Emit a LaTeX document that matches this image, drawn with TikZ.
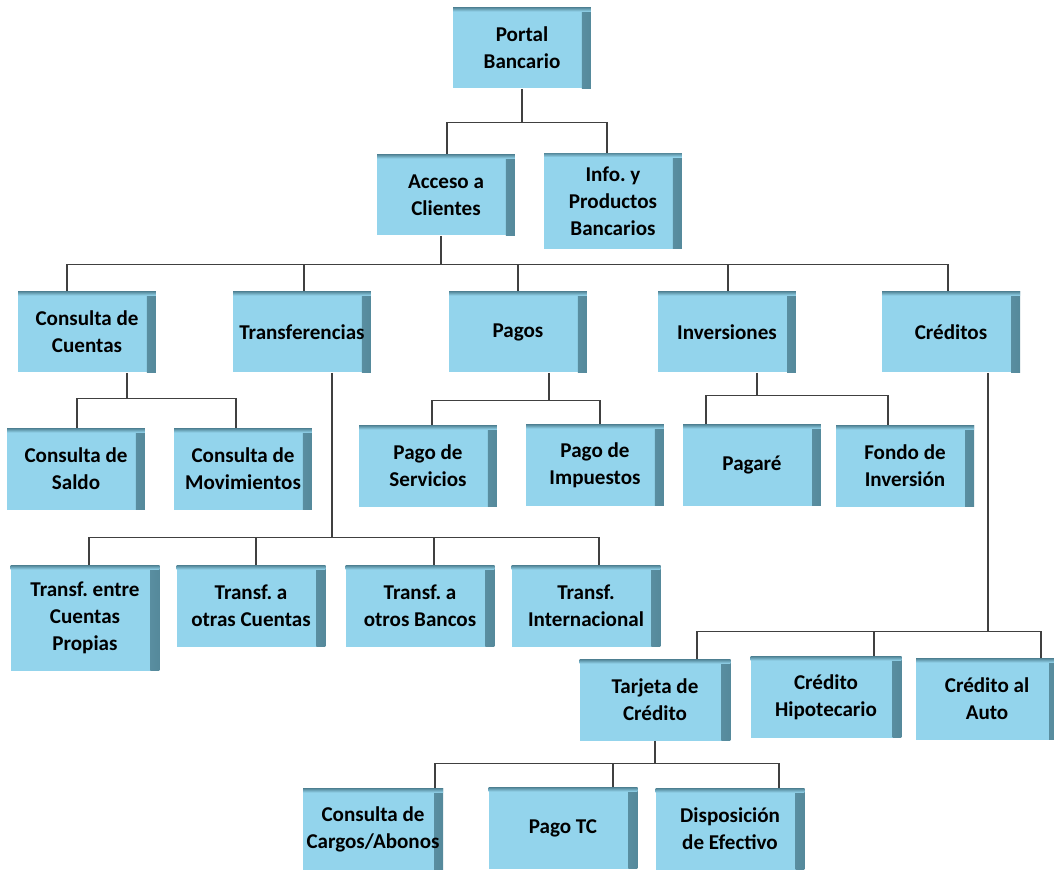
\documentclass[tikz,border=0pt]{standalone}
\usepackage{fontspec}
\setmainfont{Carlito}
\frenchspacing
\definecolor{boxblue}{HTML}{93D4EC}
\definecolor{boxshade}{HTML}{55899B}
\begin{document}
\begin{tikzpicture}[
        x=0.02cm, y=-0.02cm,
        menu/.style={rectangle, fill=boxblue, minimum width=2.76cm, minimum height=1.62cm,
            align=center, inner sep=2pt, font=\bfseries\fontsize{12}{15.3}\selectfont,
            path picture={
                \shade[left color=boxblue, right color=boxshade]
                    ([xshift=-0.18cm]path picture bounding box.north east) rectangle (path picture bounding box.south east);
                \shade[top color=boxshade, bottom color=boxblue]
                    (path picture bounding box.north west) rectangle ([yshift=-0.08cm]path picture bounding box.north east);
            }},
        wide/.style={minimum width=2.98cm},
        link/.style={black!75, line width=0.7pt}
    ]
        \useasboundingbox (0,0) rectangle (1054,869);

        % Top levels
        \node[menu] (portal) at (522,48) {Portal\\Bancario};
        \node[menu] (acceso) at (446,195) {Acceso a\\Clientes};
        \node[menu, minimum height=1.92cm] (info) at (613,201) {Info. y\\Productos\\Bancarios};

        % Services
        \node[menu] (ccuentas) at (87,332) {Consulta de\\Cuentas};
        \node[menu] (transf) at (302,332) {Transferencias};
        \node[menu] (pagos) at (518,332) {Pagos};
        \node[menu] (inver) at (727,332) {Inversiones};
        \node[menu] (cred) at (951,332) {Créditos};

        % Operations
        \node[menu] (csaldo) at (76,469) {Consulta de\\Saldo};
        \node[menu] (cmov) at (243,469) {Consulta de\\Movimientos};
        \node[menu] (pserv) at (428,466) {Pago de\\Servicios};
        \node[menu] (pimp) at (595,465) {Pago de\\Impuestos};
        \node[menu] (pagare) at (752,465) {Pagaré};
        \node[menu] (fondo) at (905,466) {Fondo de\\Inversión};

        \node[menu, wide, minimum height=2.1cm] (tprop) at (85,618) {Transf. entre\\Cuentas\\Propias};
        \node[menu, wide] (totras) at (251,606) {Transf. a\\otras Cuentas};
        \node[menu, wide] (tbancos) at (420,606) {Transf. a\\otros Bancos};
        \node[menu, wide] (tinter) at (586,606) {Transf.\\Internacional};

        \node[menu, minimum width=3.02cm] (tarjeta) at (655,700) {Tarjeta de\\Crédito};
        \node[menu, minimum width=3.02cm] (hipot) at (826,697) {Crédito\\Hipotecario};
        \node[menu, minimum width=2.84cm] (auto) at (987,699) {Crédito al\\Auto};

        \node[menu] (ccargos) at (373,829) {Consulta de\\Cargos/Abonos};
        \node[menu, wide] (pagotc) at (563,828) {Pago TC};
        \node[menu, wide] (dispo) at (730,829) {Disposición\\de Efectivo};

        % Connectors
        \draw[link] (portal.south) -- ++(0,34) -| ([xshift=0.02cm]acceso.north)
                    (portal.south) ++(0,34) -| ([xshift=-0.12cm]info.north);

        \draw[link] ([xshift=-0.1cm]acceso.south) -- ++(0,29) -| ([xshift=-0.4cm]ccuentas.north)
                    ([xshift=-0.1cm]acceso.south) ++(0,29) -| ([xshift=0.04cm]transf.north)
                    ([xshift=-0.1cm]acceso.south) ++(0,29) -| (pagos.north)
                    ([xshift=-0.1cm]acceso.south) ++(0,29) -| ([xshift=0.02cm]inver.north)
                    ([xshift=-0.1cm]acceso.south) ++(0,29) -| ([xshift=-0.06cm]cred.north);

        \draw[link] ([xshift=0.8cm]ccuentas.south) -- ++(0,26) -| ([xshift=0.02cm]csaldo.north)
                    ([xshift=0.8cm]ccuentas.south) ++(0,26) -| ([xshift=-0.14cm]cmov.north);

        \draw[link] ([xshift=0.6cm]transf.south) -- ++(0,165) -| ([xshift=0.08cm]tprop.north)
                    ([xshift=0.6cm]transf.south) ++(0,165) -| ([xshift=0.1cm]totras.north)
                    ([xshift=0.6cm]transf.south) ++(0,165) -| ([xshift=0.28cm]tbancos.north)
                    ([xshift=0.6cm]transf.south) ++(0,165) -| ([xshift=0.26cm]tinter.north);

        \draw[link] ([xshift=0.62cm]pagos.south) -- ++(0,28) -| ([xshift=0.08cm]pserv.north)
                    ([xshift=0.62cm]pagos.south) ++(0,28) -| ([xshift=0.1cm]pimp.north);

        \draw[link] ([xshift=0.6cm]inver.south) -- ++(0,23) -| ([xshift=-0.92cm]pagare.north)
                    ([xshift=0.6cm]inver.south) ++(0,23) -| ([xshift=-0.34cm]fondo.north);

        \draw[link] ([xshift=0.74cm]cred.south) -- ++(0,259) -| ([xshift=0.84cm]tarjeta.north)
                    ([xshift=0.74cm]cred.south) ++(0,259) -| ([xshift=0.96cm]hipot.north)
                    ([xshift=0.74cm]cred.south) ++(0,259) -| ([xshift=1.08cm]auto.north);

        \draw[link] (tarjeta.south) -- ++(0,23) -| ([xshift=1.24cm]ccargos.north)
                    (tarjeta.south) ++(0,23) -| ([xshift=1.0cm]pagotc.north)
                    (tarjeta.south) ++(0,23) -| ([xshift=0.98cm]dispo.north);
    \end{tikzpicture}
\end{document}
